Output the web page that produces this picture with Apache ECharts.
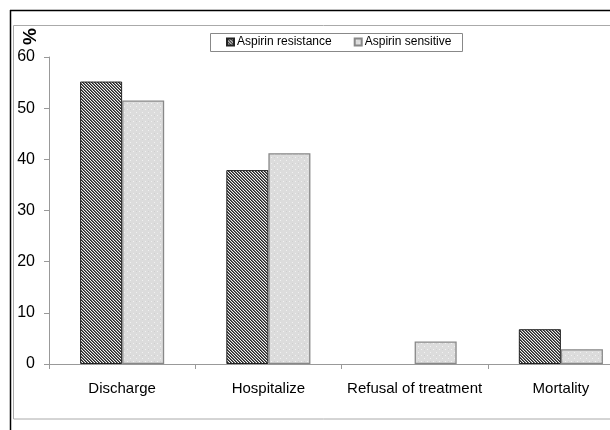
<!DOCTYPE html>
<html>
<head>
<meta charset="utf-8">
<script src="https://cdn.jsdelivr.net/npm/echarts@6/dist/echarts.min.js"></script>
<style>html,body{margin:0;padding:0;background:#fff;overflow:hidden;width:610px;height:430px;}#c{width:640px;height:430px;}</style>
</head>
<body>
<div id="c"></div>
<script>
var categories = ['Discharge', 'Hospitalize', 'Refusal of treatment', 'Mortality'];
var resistance = [55.2, 37.9, 0, 6.8];
var sensitive = [51.5, 41.2, 4.4, 2.9];
var seriesNames = ['Aspirin resistance', 'Aspirin sensitive'];
var yTicks = [0, 10, 20, 30, 40, 50, 60];

function hatchPattern() {
  var c = document.createElement('canvas');
  c.width = 3; c.height = 3;
  var ctx = c.getContext('2d');
  var cols = ['#262626', '#6a6a6a', '#f2f2f2'];
  for (var y = 0; y < 3; y++) {
    for (var x = 0; x < 3; x++) {
      var d = ((x - y) % 3 + 3) % 3;
      ctx.fillStyle = cols[d];
      ctx.fillRect(x, y, 1, 1);
    }
  }
  return c;
}
function dotPattern() {
  var c = document.createElement('canvas');
  c.width = 6; c.height = 6;
  var ctx = c.getContext('2d');
  ctx.fillStyle = '#dcdcdc';
  ctx.fillRect(0, 0, 6, 6);
  ctx.fillStyle = '#f2f2f2';
  ctx.fillRect(1, 1, 1, 1);
  ctx.fillRect(4, 4, 1, 1);
  ctx.fillStyle = '#cfcfcf';
  ctx.fillRect(4, 1, 1, 1);
  return c;
}
function toItems(arr) {
  return arr.map(function (v) {
    return v === 0 ? {value: v, itemStyle: {borderWidth: 0}} : v;
  });
}

var chart = echarts.init(document.getElementById('c'), null, {renderer: 'canvas'});
var font = '"Liberation Sans", Arial, sans-serif';
chart.setOption({
  animation: false,
  backgroundColor: '#fff',
  textStyle: {fontFamily: font},
  graphic: [
    {type: 'line', shape: {x1: 10.5, y1: 10, x2: 10.5, y2: 430}, style: {stroke: '#000', lineWidth: 1.5}},
    {type: 'line', shape: {x1: 10, y1: 10.5, x2: 640, y2: 10.5}, style: {stroke: '#000', lineWidth: 1.5}},
    {type: 'rect', shape: {x: 13.5, y: 25.5, width: 620, height: 393.5}, style: {fill: 'none', stroke: '#aaa', lineWidth: 1}},
    {type: 'rect', shape: {x: 210.5, y: 33.5, width: 252, height: 18}, style: {fill: '#fff', stroke: '#888', lineWidth: 1}},
    {type: 'text', x: 21, y: 45, rotation: Math.PI / 2, style: {text: '%', font: 'bold 19px "Liberation Sans", Arial, sans-serif', fill: '#000', textVerticalAlign: 'top'}}
  ],
  legend: {
    left: 226, top: 36,
    icon: 'rect',
    itemWidth: 7, itemHeight: 7,
    itemGap: 22,
    padding: 0,
    textStyle: {fontSize: 12, color: '#000', fontFamily: font, padding: [0, 0, 0, -2]},
    data: seriesNames
  },
  grid: {left: 49, right: 6, top: 57, bottom: 66},
  xAxis: {
    type: 'category',
    data: categories,
    axisLine: {lineStyle: {color: '#999'}},
    axisTick: {show: true, length: 5, lineStyle: {color: '#999'}},
    axisLabel: {fontSize: 15, color: '#000', margin: 17, fontFamily: font, interval: 0}
  },
  yAxis: {
    type: 'value',
    min: yTicks[0], max: yTicks[yTicks.length - 1], interval: 10,
    axisLine: {show: true, lineStyle: {color: '#999'}},
    axisTick: {show: true, length: 5, lineStyle: {color: '#999'}},
    splitLine: {show: false},
    axisLabel: {fontSize: 16, color: '#000', margin: 14, fontFamily: font}
  },
  series: [
    {
      name: seriesNames[0], type: 'bar', data: toItems(resistance),
      barGap: '0%', barCategoryGap: '42.5%',
      itemStyle: {color: {image: hatchPattern(), repeat: 'repeat'}, borderColor: '#222', borderWidth: 1}
    },
    {
      name: seriesNames[1], type: 'bar', data: toItems(sensitive),
      barGap: '0%', barCategoryGap: '42.5%',
      itemStyle: {color: {image: dotPattern(), repeat: 'repeat'}, borderColor: '#888', borderWidth: 1.3}
    }
  ]
});
</script>
</body>
</html>
